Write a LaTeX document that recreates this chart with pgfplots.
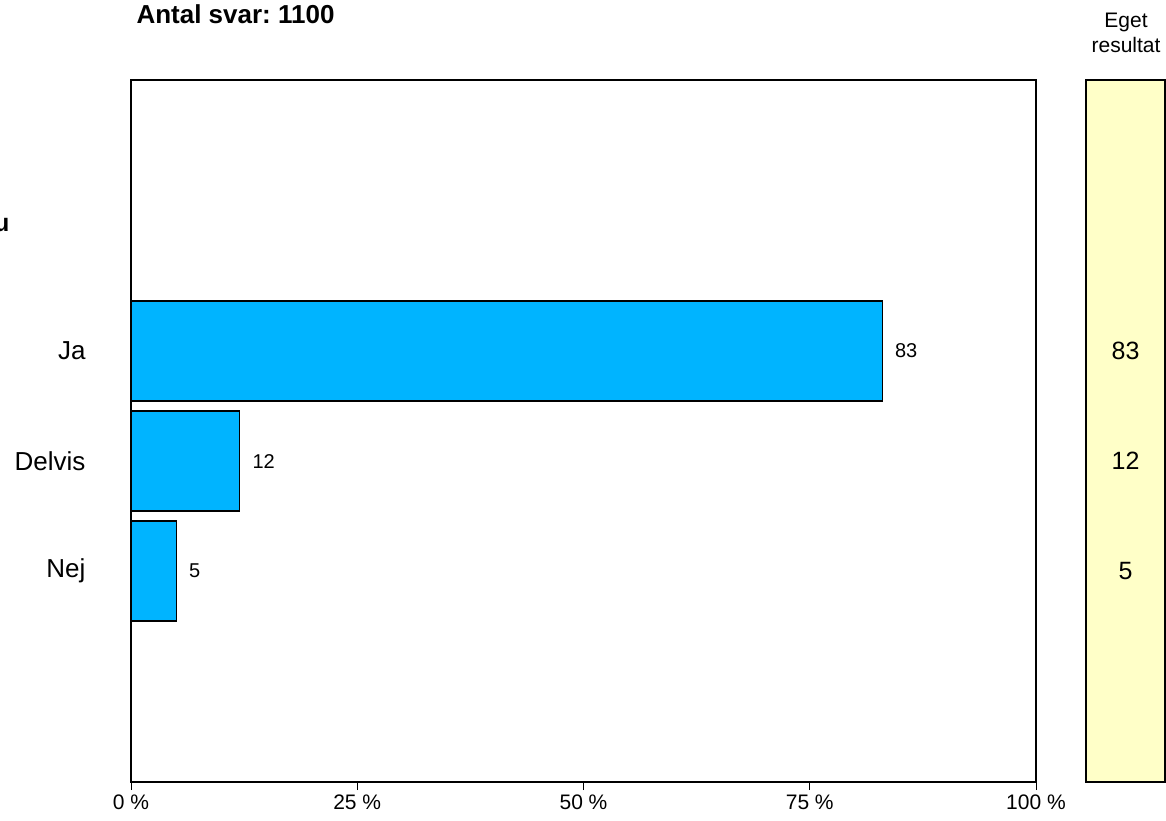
\documentclass[border=0pt]{standalone}
\usepackage{pgfplots}
\pgfplotsset{compat=1.18}
\usepackage{fontspec}
\setmainfont{Liberation Sans}
\frenchspacing
\definecolor{barblue}{RGB}{0,180,255}
\definecolor{paneyellow}{RGB}{255,255,200}
\begin{document}
\begin{tikzpicture}[x=1pt,y=1pt]
\useasboundingbox (0,0) rectangle (1166,820);
\begin{axis}[
  at={(131pt,38pt)}, anchor=south west,
  scale only axis, width=905pt, height=702pt,
  xmin=0, xmax=100, ymin=-0.918, ymax=5.464,
  xbar, bar width=0.909,
  /pgf/number format/assume math mode=true,
  xtick={0,25,50,75,100},
  xticklabels={0 \%,25 \%,50 \%,75 \%,100 \%},
  x tick label style={font=\fontsize{21}{25}\selectfont, yshift=-1pt},
  xtick pos=bottom, xtick align=outside,
  major tick length=8pt,
  ytick={1,2,3}, yticklabels={Nej,Delvis,Ja},
  y tick label style={font=\fontsize{26}{30}\selectfont, xshift=-34pt},
  ytick style={draw=none},
  axis line style={line width=1.5pt},
  tick style={black, line width=1pt},
  nodes near coords,
  nodes near coords style={font=\fontsize{20}{24}\selectfont, anchor=west, xshift=9pt},
]
\addplot[fill=barblue, draw=black, line width=1.2pt] coordinates {(83,3) (12,2) (5,1)};
\end{axis}
\begin{axis}[
  at={(1086pt,38pt)}, anchor=south west,
  scale only axis, width=79pt, height=702pt,
  xmin=0, xmax=1, ymin=-0.918, ymax=5.464,
  axis background/.style={fill=paneyellow},
  axis line style={line width=1.5pt},
  xtick=\empty, ytick=\empty,
  nodes near coords, point meta=explicit symbolic,
  nodes near coords style={font=\fontsize{25}{29}\selectfont, anchor=center},
]
\addplot[only marks, mark=none] coordinates {(0.5,3)[83] (0.5,2)[12] (0.5,1)[5]};
\end{axis}
\node[anchor=west, font=\bfseries\fontsize{26}{30}\selectfont] at (133,806) {Antal svar: 1100};
\node[anchor=east, font=\bfseries\fontsize{25}{29}\selectfont] at (13,595) {u};
\node[align=center, font=\fontsize{21}{25}\selectfont] at (1126,787) {Eget\\resultat};
\end{tikzpicture}
\end{document}
